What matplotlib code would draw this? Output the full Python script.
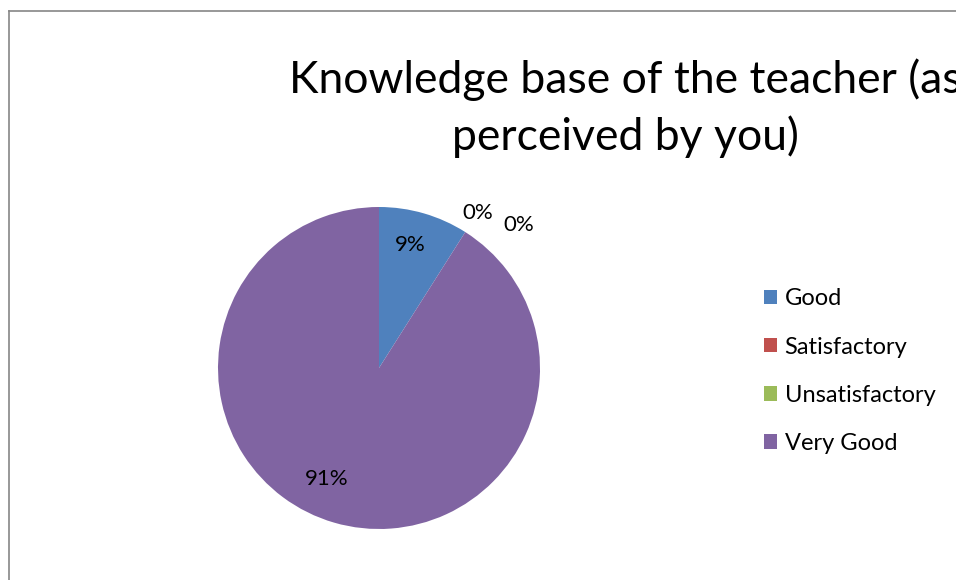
import matplotlib
matplotlib.use("Agg")
import numpy as np
import matplotlib.pyplot as plt
from matplotlib.patches import Patch
from matplotlib.lines import Line2D

# --- data ---
categories = ["Good", "Satisfactory", "Unsatisfactory", "Very Good"]
values = [9, 0, 0, 91]
colors = ["#4F81BD", "#C0504D", "#9BBB59", "#8064A2"]
title = "Knowledge base of the teacher (as\nperceived by you)"

# label placement (radius, extra angle in degrees) per slice, mimics Excel "best fit"
label_radius = [0.79, 1.14, 1.24, 0.76]
label_dang = [2.0, 0.0, -12.0, -9.0]

plt.rcParams["font.family"] = ["Lato", "DejaVu Sans"]

W, H = 956, 580
fig = plt.figure(figsize=(W / 100, H / 100), dpi=100)

# chart border (only left and top edges are visible in the crop)
bx, by = 8.5 / W, 1 - 10.5 / H
fig.add_artist(Line2D([bx, bx], [-0.01, by], transform=fig.transFigure, color="#868686", lw=1.2))
fig.add_artist(Line2D([bx, 1.01], [by, by], transform=fig.transFigure, color="#868686", lw=1.2))

# pie axes: centre (379, 368), radius 161 px
cx, cy, r = 379, 368, 161
ax = fig.add_axes([(cx - r) / W, (H - cy - r) / H, 2 * r / W, 2 * r / H])
wedges, _ = ax.pie(values, colors=colors, startangle=90, counterclock=False,
                   radius=1.0, wedgeprops=dict(linewidth=0))
ax.set_xlim(-1, 1)
ax.set_ylim(-1, 1)
ax.set_aspect("equal")
ax.axis("off")

total = sum(values)
for i, w in enumerate(wedges):
    mid = (w.theta1 + w.theta2) / 2 + label_dang[i]
    rr = label_radius[i]
    x = rr * np.cos(np.radians(mid))
    y = rr * np.sin(np.radians(mid))
    pct = "%d%%" % round(100 * values[i] / total)
    ax.text(x, y, pct, ha="center", va="center", fontsize=16, color="black")

# title runs past the right edge in the original chart too
fig.text(625 / W, 1 - 108 / H, title, ha="center", va="center",
         fontsize=32, linespacing=1.4, color="black")

handles = [Patch(facecolor=c, edgecolor="none") for c in colors]
fig.legend(handles, categories, loc="upper left", bbox_to_anchor=(755 / W, 1 - 279 / H),
           frameon=False, fontsize=17, handlelength=0.55, handleheight=0.55,
           handletextpad=0.3, labelspacing=1.15, borderaxespad=0)

fig.savefig("out.png", dpi=100)
